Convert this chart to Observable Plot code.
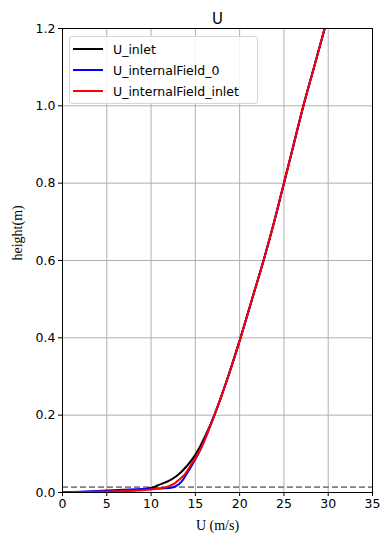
<!DOCTYPE html>
<html>
<head>
<meta charset="utf-8">
<script src="https://cdn.jsdelivr.net/npm/d3@7"></script>
<script src="https://cdn.jsdelivr.net/npm/@observablehq/plot@0.6"></script>
<style>
  html, body { margin: 0; padding: 0; background: #fff; }
  #wrap { position: relative; width: 390px; height: 545px; }
  #legend {
    position: absolute; left: 69px; top: 36px; width: 187px; height: 66px;
    border: 1px solid #d6d6d6; border-radius: 3px; background: rgba(255,255,255,0.85);
    font-family: "DejaVu Sans", sans-serif; font-size: 12.5px; color: #000;
  }
  .row { position: absolute; left: 0; height: 20px; display: flex; align-items: center; }
  .sw { width: 30px; height: 2px; margin-left: 3px; margin-right: 10px; }
</style>
</head>
<body>
<div id="wrap"></div>
<script>
// Data
const heights_inlet = [0, 0.001, 0.003, 0.006, 0.01, 0.014, 0.018, 0.03, 0.044, 0.07, 0.096, 0.12, 0.15, 0.2, 0.25, 0.3, 0.4, 0.5, 0.6, 0.7, 0.8, 0.9, 1.0, 1.1, 1.2, 1.25];
const U_inlet       = [0, 2.0,   5.0,   8.0,   9.5,  10.3,  10.7,  12.0, 12.95, 14.1, 14.95, 15.55, 16.2, 17.15, 17.95, 18.7, 20.1, 21.4, 22.7, 23.9, 25.0, 26.1, 27.2, 28.4, 29.6, 30.2];

const heights_field0 = [0, 0.002, 0.005, 0.009, 0.011, 0.013, 0.018, 0.03, 0.044, 0.07, 0.096, 0.12, 0.15, 0.2, 0.25, 0.3, 0.4, 0.5, 0.6, 0.7, 0.8, 0.9, 1.0, 1.1, 1.2, 1.25];
const U_internalField_0 = [0, 2.0, 5.0, 9.0, 11.6, 12.4, 12.9, 13.5, 13.9, 14.6, 15.25, 15.75, 16.3, 17.15, 17.95, 18.7, 20.1, 21.4, 22.7, 23.9, 25.0, 26.1, 27.2, 28.4, 29.6, 30.2];

const heights_fieldInlet = [0, 0.001, 0.003, 0.006, 0.011, 0.018, 0.03, 0.044, 0.07, 0.096, 0.12, 0.15, 0.2, 0.25, 0.3, 0.4, 0.5, 0.6, 0.7, 0.8, 0.9, 1.0, 1.1, 1.2, 1.25];
const U_internalField_inlet = [0, 3.0, 6.0, 9.0, 11.1, 12.2, 13.0, 13.7, 14.45, 15.2, 15.75, 16.3, 17.15, 17.95, 18.7, 20.1, 21.4, 22.7, 23.9, 25.0, 26.1, 27.2, 28.4, 29.6, 30.2];

const seriesNames = ["U_inlet", "U_internalField_0", "U_internalField_inlet"];
const seriesColors = ["black", "blue", "red"];
const refHeight = [0.014];
const xTicks = [0, 5, 10, 15, 20, 25, 30, 35];
const yTicks = [0, 0.2, 0.4, 0.6, 0.8, 1.0, 1.2];

const toRows = (hs, us, name) => hs.map((h, i) => ({h, u: us[i], name}));
const rows = [
  ...toRows(heights_inlet, U_inlet, seriesNames[0]),
  ...toRows(heights_field0, U_internalField_0, seriesNames[1]),
  ...toRows(heights_fieldInlet, U_internalField_inlet, seriesNames[2])
];

const chart = Plot.plot({
  width: 390, height: 545,
  marginLeft: 62, marginRight: 18, marginTop: 28, marginBottom: 53,
  style: {fontFamily: "DejaVu Sans, sans-serif", fontSize: "12.5px", color: "black", background: "white"},
  x: {domain: [0, 35], ticks: xTicks},
  y: {domain: [0, 1.2], ticks: yTicks},
  marks: [
    Plot.gridX(xTicks, {stroke: "#b0b0b0", strokeOpacity: 1, strokeWidth: 1}),
    Plot.gridY(yTicks, {stroke: "#b0b0b0", strokeOpacity: 1, strokeWidth: 1}),
    Plot.ruleY(refHeight, {stroke: "gray", strokeWidth: 1.6, strokeDasharray: "6,3"}),
    ...seriesNames.map((n, i) => Plot.line(rows.filter(d => d.name === n), {
      x: "u", y: "h", stroke: seriesColors[i], strokeWidth: 2, curve: "monotone-y", clip: true
    })),
    Plot.frame({stroke: "black", strokeWidth: 1}),
    Plot.axisX(xTicks, {tickSize: 4, tickPadding: 3, tickFormat: d => String(d), label: null}),
    Plot.axisY(yTicks, {tickSize: 4, tickPadding: 3, tickFormat: d3.format(".1f"), label: null}),
    Plot.text(["U (m/s)"], {frameAnchor: "bottom", dy: 37, fontFamily: "Liberation Serif, serif", fontSize: 14}),
    Plot.text(["height(m)"], {frameAnchor: "left", dx: -45, rotate: -90, fontFamily: "Liberation Serif, serif", fontSize: 14}),
    Plot.text(["U"], {frameAnchor: "top", lineAnchor: "bottom", dy: -5, fontSize: 15})
  ]
});
const wrap = document.getElementById("wrap");
wrap.appendChild(chart);

const legend = document.createElement("div");
legend.id = "legend";
seriesNames.forEach((n, i) => {
  const r = document.createElement("div");
  r.className = "row";
  r.style.top = (2 + i * 21) + "px";
  r.innerHTML = `<div class="sw" style="background:${seriesColors[i]}"></div><span>${n}</span>`;
  legend.appendChild(r);
});
wrap.appendChild(legend);
</script>
</body>
</html>
